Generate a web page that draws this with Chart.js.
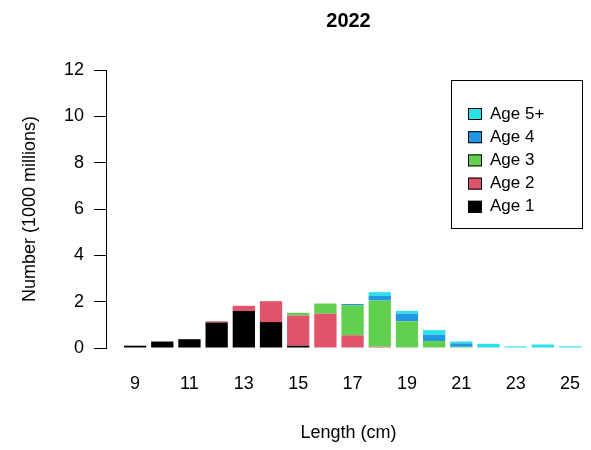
<!DOCTYPE html>
<html>
<head>
<meta charset="utf-8">
<script src="https://cdn.jsdelivr.net/npm/chart.js@4/dist/chart.umd.min.js"></script>
<style>
  body { margin: 0; background: #fff; }
</style>
</head>
<body>
<canvas id="lengthChart" width="591" height="450"></canvas>
<script>
const lengths = [9, 10, 11, 12, 13, 14, 15, 16, 17, 18, 19, 20, 21, 22, 23, 24, 25];
const tickLabels = [9, 11, 13, 15, 17, 19, 21, 23, 25];
const ageLabels = ["Age 1", "Age 2", "Age 3", "Age 4", "Age 5+"];

// values in 1000 millions
const age1 = [0.10, 0.28, 0.38, 1.10, 1.60, 1.12, 0.10, 0, 0, 0, 0, 0, 0, 0, 0, 0, 0];
const age2 = [0, 0, 0, 0.05, 0.22, 0.90, 1.30, 1.48, 0.55, 0.05, 0, 0, 0, 0, 0, 0, 0];
const age3 = [0, 0, 0, 0, 0, 0, 0.12, 0.44, 1.30, 2.00, 1.15, 0.30, 0.05, 0, 0, 0, 0];
const age4 = [0, 0, 0, 0, 0, 0, 0, 0, 0.05, 0.20, 0.33, 0.27, 0.15, 0.03, 0, 0, 0];
const age5 = [0, 0, 0, 0, 0, 0, 0, 0, 0, 0.16, 0.12, 0.20, 0.08, 0.15, 0.07, 0.15, 0.07];

const colors = ["#000000", "#DF536B", "#61D04F", "#2297E6", "#28E2E5"];
const font = '"Liberation Sans", Arial, sans-serif';

const series = [age1, age2, age3, age4, age5];

const legendBox = {
  id: "legendBox",
  afterDraw(chart) {
    const ctx = chart.ctx;
    ctx.save();
    ctx.strokeStyle = "#000";
    ctx.lineWidth = 1;
    ctx.strokeRect(451.5, 80.5, 131, 148);
    ctx.font = "17px " + font;
    ctx.textBaseline = "middle";
    const sets = chart.data.datasets.slice().reverse();
    sets.forEach((ds, i) => {
      const y = 114 + i * 23.2;
      ctx.fillStyle = ds.backgroundColor;
      ctx.fillRect(468, y - 6, 14, 12);
      ctx.strokeRect(468.5, y - 5.5, 13, 11);
      ctx.fillStyle = "#000";
      ctx.fillText(ds.label, 490, y);
    });
    ctx.restore();
  }
};

new Chart(document.getElementById("lengthChart").getContext("2d"), {
  type: "bar",
  data: {
    datasets: series.map((vals, k) => ({
      label: ageLabels[k],
      data: vals.map((v, i) => ({ x: lengths[i], y: v })),
      backgroundColor: colors[k],
      borderWidth: 0,
      barPercentage: 0.82,
      categoryPercentage: 1
    }))
  },
  options: {
    responsive: false,
    animation: false,
    layout: { padding: { left: 15, right: 0, top: 0, bottom: 0 } },
    plugins: {
      legend: { display: false },
      tooltip: { enabled: false },
      title: {
        display: true,
        text: "2022",
        fullSize: false,
        color: "#000",
        font: { family: font, size: 20, weight: "bold" },
        padding: { top: 9, bottom: 37 }
      }
    },
    scales: {
      x: {
        type: "linear",
        stacked: true,
        offset: false,
        min: 7.93,
        max: 25.77,
        // invisible tick marks only push the labels down
        grid: { display: true, drawOnChartArea: false, drawTicks: true, tickLength: 20, color: "rgba(0,0,0,0)" },
        border: { display: false },
        afterBuildTicks: scale => {
          scale.ticks = tickLabels.map(v => ({ value: v }));
        },
        afterFit: scale => { scale.height = 102; },
        ticks: {
          color: "#000",
          font: { family: font, size: 18 },
          padding: 5,
          maxRotation: 0,
          autoSkip: false,
          callback: v => String(v)
        },
        title: {
          display: true,
          text: "Length (cm)",
          color: "#000",
          font: { family: font, size: 18 },
          padding: { top: 0, bottom: 6 }
        }
      },
      y: {
        stacked: true,
        min: 0,
        max: 12,
        afterFit: scale => { scale.width = 91; },
        grid: { drawOnChartArea: false, tickLength: 12, color: "#000" },
        border: { display: true, color: "#000", width: 1 },
        ticks: {
          stepSize: 2,
          color: "#000",
          font: { family: font, size: 18 },
          padding: 10
        },
        title: {
          display: true,
          text: "Number (1000 millions)",
          color: "#000",
          font: { family: font, size: 18 },
          padding: { top: 4, bottom: 4 }
        }
      }
    }
  },
  plugins: [legendBox]
});
</script>
</body>
</html>
